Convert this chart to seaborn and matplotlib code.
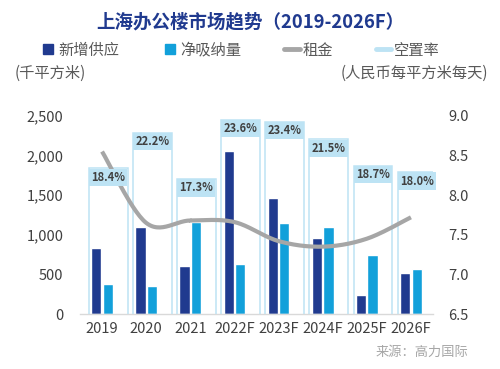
import numpy as np
import pandas as pd
import matplotlib
matplotlib.use('Agg')
import matplotlib.pyplot as plt
import seaborn as sns
from matplotlib.lines import Line2D
from matplotlib.ticker import FuncFormatter

# ---- data ----
years = ['2019', '2020', '2021', '2022F', '2023F', '2024F', '2025F', '2026F']
supply = [830, 1095, 610, 2060, 1460, 960, 245, 520]          # 新增供应 (千平方米)
absorption = [380, 350, 1160, 635, 1145, 1095, 750, 565]      # 净吸纳量 (千平方米)
rent = [8.55, 7.65, 7.68, 7.66, 7.42, 7.35, 7.45, 7.72]       # 租金 (人民币每平方米每天)
vacancy = [18.4, 22.2, 17.3, 23.6, 23.4, 21.5, 18.7, 18.0]    # 空置率 (%)
series_names = ['新增供应', '净吸纳量', '租金', '空置率']
left_ticks = [0, 500, 1000, 1500, 2000, 2500]
right_ticks = [6.5, 7.0, 7.5, 8.0, 8.5, 9.0]

sns.set_theme(style='white')
plt.rcParams['font.family'] = ['Noto Sans CJK SC', 'DejaVu Sans']

DARK = '#203a8f'
LIGHT = '#12a0da'
GRAY = '#a6a6a6'
VAC = '#bde3f4'
TXT = '#595959'
TICK = '#404040'

fig = plt.figure(figsize=(5, 3.69), dpi=100)
ax = fig.add_axes([0.16, 0.149, 0.706, 0.537])

df = pd.DataFrame({
    'year': years * 2,
    'value': supply + absorption,
    'series': [series_names[0]] * len(years) + [series_names[1]] * len(years),
})
sns.barplot(data=df, x='year', y='value', hue='series', palette=[DARK, LIGHT],
            width=0.52, gap=0.1, saturation=1, legend=False, ax=ax)
ax.set_xlim(-0.5, len(years) - 0.5)
ax.set_ylim(0, 2500)
ax.set_yticks(left_ticks)
ax.yaxis.set_major_formatter(FuncFormatter(lambda v, p: f'{int(v):,}'))
ax.set_xlabel('')
ax.set_ylabel('')
ax.tick_params(axis='y', length=0, pad=12, labelsize=10.5, labelcolor=TICK)
ax.tick_params(axis='x', length=0, pad=6, labelsize=10.5, labelcolor=TICK)
for s in ['top', 'left', 'right']:
    ax.spines[s].set_visible(False)
ax.spines['bottom'].set_color('#d9d9d9')
ax.spines['bottom'].set_linewidth(1.0)
ax.patch.set_visible(False)

# vacancy outline rectangles on a hidden axis
ax3 = ax.twinx()
xpos = np.arange(len(years))
ax3.bar(xpos + 0.14, vacancy, width=0.88, facecolor='none', edgecolor=VAC, linewidth=1.1)
ax3.set_ylim(2.9, 24.0)
ax3.set_xlim(-0.5, len(years) - 0.5)
ax3.axis('off')

# rent line (right axis), drawn smooth
ax2 = ax.twinx()
ax2.set_ylim(6.5, 9.0)
ax2.set_yticks(right_ticks)
ax2.yaxis.set_major_formatter(FuncFormatter(lambda v, p: f'{v:.1f}'))
ax2.tick_params(axis='y', length=0, pad=11, labelsize=10.5, labelcolor=TICK)
for s in ax2.spines.values():
    s.set_visible(False)
ax2.patch.set_visible(False)

pts = np.column_stack([xpos.astype(float), np.array(rent)])
ext = np.vstack([pts[0], pts, pts[-1]])
curve = []
for i in range(len(pts) - 1):
    p0, p1, p2, p3 = ext[i], ext[i + 1], ext[i + 2], ext[i + 3]
    t = np.linspace(0, 1, 30)[:, None]
    seg = 0.5 * ((2 * p1) + (-p0 + p2) * t + (2 * p0 - 5 * p1 + 4 * p2 - p3) * t ** 2
                 + (-p0 + 3 * p1 - 3 * p2 + p3) * t ** 3)
    curve.append(seg)
curve = np.vstack(curve)
ax2.plot(curve[:, 0], curve[:, 1], color=GRAY, linewidth=3.0, solid_capstyle='butt')

ax.set_zorder(1)
ax3.set_zorder(2)
ax2.set_zorder(3)

# vacancy labels
for i, v in enumerate(vacancy):
    ax2.annotate(f'{v:.1f}%', xy=(i - 0.30, v), xycoords=ax3.transData,
                 xytext=(1.6, -1.8), textcoords='offset points',
                 ha='left', va='top', fontsize=8, fontweight='bold', color=TICK,
                 bbox=dict(boxstyle='square,pad=0.2', fc=VAC, ec='none'),
                 annotation_clip=False)

# title, units, source
fig.text(0.5, 1 - 22 / 369, '上海办公楼市场趋势（2019-2026F）', ha='center', va='center',
         fontsize=13.3, fontweight='bold', color=DARK)
fig.text(15 / 500, 1 - 73 / 369, '(千平方米)', ha='left', va='center', fontsize=11, color=TXT)
fig.text(488 / 500, 1 - 73 / 369, '(人民币每平方米每天)', ha='right', va='center',
         fontsize=11, color=TXT)
fig.text(468 / 500, 1 - 352 / 369, '来源：高力国际', ha='right', va='center',
         fontsize=9.5, color='#a6a6a6')

handles = [
    Line2D([], [], marker='s', linestyle='none', markersize=6.5, color=DARK),
    Line2D([], [], marker='s', linestyle='none', markersize=6.5, color=LIGHT),
    Line2D([], [], color=GRAY, linewidth=3.5),
    Line2D([], [], color=VAC, linewidth=3.5),
]
fig.legend(handles, series_names, loc='center', bbox_to_anchor=(240 / 500, 1 - 50 / 369),
           ncol=4, frameon=False, fontsize=11, handlelength=1.0, columnspacing=2.8,
           handletextpad=0.2, labelcolor=TXT, borderpad=0, borderaxespad=0)

fig.savefig('out.png', dpi=100)
